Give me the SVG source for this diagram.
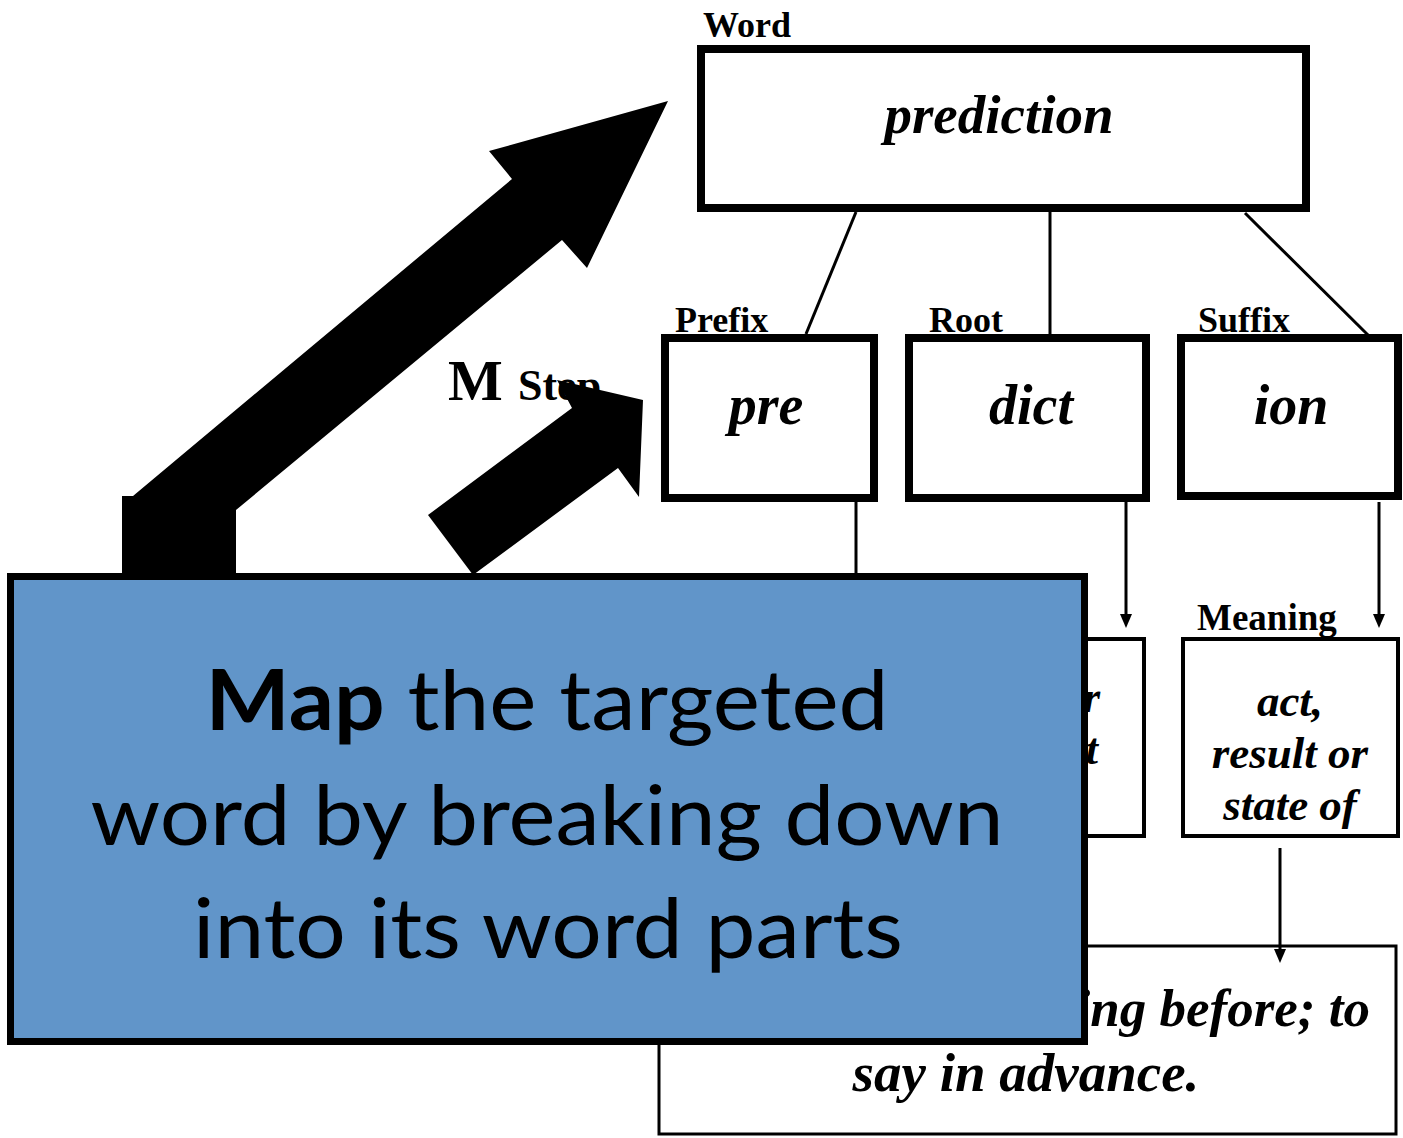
<svg xmlns="http://www.w3.org/2000/svg" width="1403" height="1138" viewBox="0 0 1403 1138">
<style>
.lbl{font-family:"Liberation Serif","Times New Roman",serif;font-weight:bold;font-size:36px;fill:#000}
.wrd{font-family:"Liberation Serif","Times New Roman",serif;font-weight:bold;font-style:italic;fill:#000;text-anchor:middle}
.box{fill:#fff;stroke:#000}
.con{stroke:#000;stroke-width:3;fill:none}
.big{fill:#000}
.cap{font-family:Lato,"Open Sans",sans-serif;font-size:84px;fill:#000;text-anchor:middle}
</style>
<rect width="1403" height="1138" fill="#fff"/>

<g id="node-word">
<text class="lbl" x="703" y="37">Word</text>
<rect class="box" x="701" y="49" width="605" height="159" stroke-width="8"/>
<text class="wrd" x="999" y="133" style="font-size:55px">prediction</text>
</g>

<g id="node-prefix">
<text class="lbl" x="675" y="332">Prefix</text>
<rect class="box" x="665" y="338" width="209" height="160" stroke-width="8"/>
<text class="wrd" x="766" y="424" style="font-size:56px">pre</text>
</g>

<g id="node-root">
<text class="lbl" x="929" y="332">Root</text>
<rect class="box" x="909" y="338" width="237" height="160" stroke-width="8"/>
<text class="wrd" x="1031" y="424" style="font-size:56px">dict</text>
</g>

<g id="node-suffix">
<text class="lbl" x="1198" y="332">Suffix</text>
<rect class="box" x="1181" y="338" width="217" height="158" stroke-width="8"/>
<text class="wrd" x="1291" y="424" style="font-size:56px">ion</text>
</g>

<g id="node-root-meaning">
<rect class="box" x="1000" y="639" width="144" height="197" stroke-width="4"/>
<text class="wrd" x="1100" y="712" style="font-size:44px;text-anchor:end">r</text>
<text class="wrd" x="1098" y="764" style="font-size:44px;text-anchor:end">t</text>
</g>

<g id="node-suffix-meaning">
<text class="lbl" x="1197" y="630" style="font-size:37px">Meaning</text>
<rect class="box" x="1183" y="639" width="215" height="197" stroke-width="4"/>
<text class="wrd" x="1290" y="716" style="font-size:45px">act,</text>
<text class="wrd" x="1290" y="768" style="font-size:45px">result or</text>
<text class="wrd" x="1290" y="820" style="font-size:45px">state of</text>
</g>

<g id="node-definition">
<rect class="box" x="659" y="946" width="737" height="188" stroke-width="3"/>
<text class="wrd" x="1370" y="1026" style="font-size:53px;text-anchor:end">ing before; to</text>
<text class="wrd" x="1026" y="1091" style="font-size:55px">say in advance.</text>
</g>

<g id="connectors">
<line class="con" x1="856" y1="212" x2="806" y2="334"/>
<line class="con" x1="1050" y1="212" x2="1050" y2="338"/>
<line class="con" x1="1245" y1="213" x2="1368" y2="335"/>
<line class="con" x1="856" y1="502" x2="856" y2="580"/>
<line class="con" x1="1126" y1="502" x2="1126" y2="614"/>
<path d="M1120,614 L1132,614 L1126,628 Z" fill="#000"/>
<line class="con" x1="1379" y1="502" x2="1379" y2="614"/>
<path d="M1373,614 L1385,614 L1379,628 Z" fill="#000"/>
<line class="con" x1="1280" y1="848" x2="1280" y2="950"/>
<path d="M1274,949 L1286,949 L1280,963 Z" fill="#000"/>
</g>

<g id="m-step">
<text class="lbl" x="448" y="400" style="font-size:58px">M</text>
<text class="lbl" x="518" y="400" style="font-size:44px">Step</text>
</g>

<g id="big-arrow">
<polygon class="big" points="122,585 122,496 133,496 512,179 489,151 668,101 587,268 562,240 236,510 236,585"/>
</g>
<g id="small-arrow">
<polygon class="big" points="428,515 572,408 557,380 643,400 639,497 618,468 473,575"/>
</g>

<g id="caption">
<rect x="10.5" y="576.5" width="1074" height="465" fill="#6195C9" stroke="#000" stroke-width="7"/>
<text class="cap" x="547" y="730" textLength="683" lengthAdjust="spacingAndGlyphs"><tspan font-weight="bold">Map</tspan> the targeted</text>
<text class="cap" x="547" y="845" textLength="913" lengthAdjust="spacingAndGlyphs">word by breaking down</text>
<text class="cap" x="548" y="958" textLength="710" lengthAdjust="spacingAndGlyphs">into its word parts</text>
</g>
</svg>
